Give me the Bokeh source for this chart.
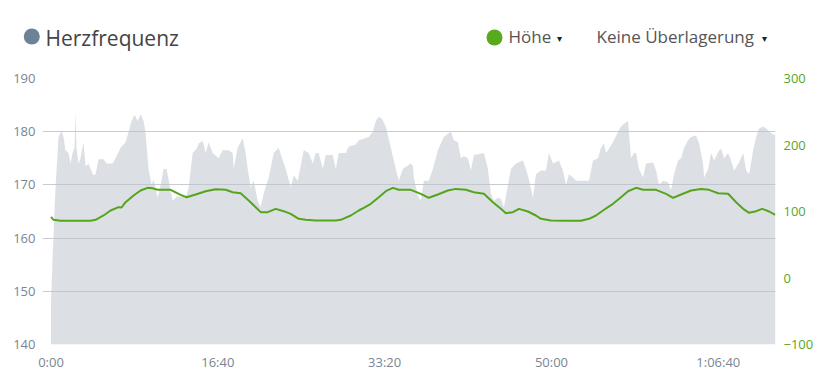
from bokeh.plotting import figure
from bokeh.models import Range1d, LinearAxis, FixedTicker
from bokeh.core.properties import value
from bokeh.embed import file_html
from bokeh.resources import INLINE

# Heart rate (seconds, bpm)
hr_time = [0, 9, 27, 45, 63, 75, 87, 105, 117, 129, 141, 147, 153, 165, 177, 195, 207, 225, 237, 255,
           267, 285, 315, 333, 369, 387, 417, 447, 465, 483, 501, 519, 537, 555, 567, 585, 603, 615, 639, 657,
           675, 693, 711, 729, 753, 789, 807, 825, 849, 873, 885, 909, 927, 945, 969, 1005, 1029, 1065, 1089, 1095,
           1119, 1149, 1167, 1179, 1197, 1215, 1239, 1257, 1275, 1305, 1335, 1365, 1389, 1407, 1437, 1455, 1479, 1515, 1545, 1569,
           1587, 1605, 1629, 1647, 1689, 1707, 1725, 1767, 1785, 1827, 1845, 1887, 1905, 1929, 1947, 1965, 1983, 2007, 2037, 2067,
           2085, 2109, 2157, 2169, 2175, 2199, 2217, 2235, 2265, 2289, 2319, 2337, 2355, 2379, 2397, 2415, 2439, 2457, 2475, 2499,
           2517, 2535, 2595, 2619, 2637, 2655, 2679, 2697, 2715, 2739, 2757, 2787, 2829, 2847, 2865, 2889, 2907, 2937, 2967, 2985,
           3009, 3045, 3069, 3087, 3105, 3129, 3147, 3225, 3249, 3279, 3297, 3315, 3327, 3345, 3375, 3399, 3417, 3435, 3459, 3465,
           3477, 3495, 3507, 3525, 3549, 3567, 3609, 3627, 3645, 3669, 3699, 3717, 3735, 3759, 3777, 3795, 3819, 3837, 3867, 3885,
           3909, 3915, 3939, 3957, 3975, 4005, 4017, 4035, 4059, 4077, 4095, 4125, 4149, 4167, 4185, 4209, 4227, 4245, 4269, 4287,
           4305, 4335, 4343]
hr_bpm = [148, 156, 169.5, 179, 180.2, 179, 176.5, 176, 174, 176, 177, 183.8, 177, 174, 175, 178, 173.5, 174, 173, 171.8,
          172, 174.8, 174.8, 174, 174, 175, 177, 178, 180, 182, 183.2, 182, 183.3, 182, 179.7, 173, 170, 171, 167.6, 170,
          173, 173, 170, 167, 167.8, 167.8, 167.6, 169.5, 176, 176.8, 177.8, 178.3, 176, 178, 176, 175, 176.5, 176.5, 176, 173,
          177, 178.7, 176, 173, 169.5, 170.8, 167, 165.8, 168.4, 171.4, 176, 177, 174.6, 173, 169.5, 171.8, 170.8, 176.5, 176, 174,
          176, 176, 173, 175.6, 175.6, 173, 176, 176, 177.2, 177.6, 178.4, 178.8, 179, 180, 182, 182.8, 182.5, 181, 177, 173,
          170.8, 173, 174, 173.6, 171.4, 168, 167, 170.8, 170.8, 173, 176.5, 177.8, 179, 179.6, 180, 178.4, 178, 175, 175.4, 175,
          172.7, 175.6, 176, 173, 168.4, 167, 167.6, 167.4, 165.8, 170, 173, 174, 174.6, 173, 171, 167.6, 172, 172.7, 172.7, 176,
          174, 174.6, 172.7, 170, 172, 171.4, 170.8, 170.8, 174.6, 175, 177, 177.8, 176, 176.8, 178.4, 180, 181, 181.5, 182, 179.6,
          175, 176, 176, 173, 171.4, 174, 174.2, 172.7, 170, 170.8, 170.5, 169, 172, 174.6, 175, 177, 178.4, 179, 179.3, 177.8,
          174, 171.4, 173, 176, 174.6, 176.5, 176.8, 175, 176, 174.6, 172.7, 174.2, 176, 172.7, 172, 176.5, 179, 180.6, 181, 180.6,
          180, 179.4, 179.5]

# Elevation (seconds, m)
elev_time = [0, 15, 57, 147, 237, 267, 315, 357, 405, 423, 447, 495, 537, 579, 609, 639, 717, 777, 813, 867,
             927, 987, 1047, 1089, 1137, 1185, 1227, 1257, 1299, 1347, 1395, 1437, 1485, 1527, 1587, 1707, 1737, 1797, 1845, 1875,
             1917, 1965, 2007, 2049, 2085, 2157, 2217, 2265, 2319, 2379, 2427, 2487, 2535, 2595, 2649, 2697, 2727, 2769, 2805, 2859,
             2907, 2937, 2997, 3087, 3177, 3225, 3267, 3309, 3339, 3369, 3417, 3459, 3507, 3549, 3627, 3687, 3729, 3777, 3837, 3897,
             3945, 3999, 4059, 4107, 4149, 4185, 4227, 4263, 4305, 4341]
elev_m = [92, 87.5, 86, 86, 86, 87.5, 94, 101.5, 106.5, 106, 114, 124, 131.6, 135.6, 135, 132.6, 132.6, 125, 121.5, 125.6,
          130.5, 133.5, 132.6, 129, 127.5, 116.5, 106.5, 99, 99, 104, 100.5, 96.5, 89, 87.5, 86.5, 86.5, 87.5, 94, 101.5, 105.5,
          111.5, 121.5, 130.5, 135.6, 132.6, 132.6, 126.6, 120.6, 125.6, 131.6, 134, 132.6, 129, 126.6, 114, 104, 97.5, 99, 104, 100,
          94, 89, 86.5, 86, 86, 89, 94, 101.5, 106.5, 111.5, 121.5, 130.5, 135.6, 132.6, 132.6, 126.6, 120.6, 125.6, 131.6, 134,
          132.6, 127.5, 126.6, 114, 104, 98, 100.5, 104, 100, 95]

x_ticks = [0, 1000, 2000, 3000, 4000]
x_tick_labels = ["0:00", "16:40", "33:20", "50:00", "1:06:40"]
hr_ticks = [140, 150, 160, 170, 180, 190]
elev_ticks = [-100, 0, 100, 200, 300]

title_text = "Herzfrequenz"
series_text = "Höhe"
overlay_text = "Keine Überlagerung"

FONT = "Open Sans"
W = 828
HH = 60                      # header strip height
H = 320                      # chart height
FL, FT, FR, FB = 42, 78, 775, 344   # chart frame box on the page

# ---------- header strip (pixel coordinates, y downwards) ----------
h = figure(width=W, height=HH, output_backend="svg", toolbar_location=None,
           x_range=Range1d(0, W), y_range=Range1d(HH, 0),
           x_axis_type=None, y_axis_type=None,
           min_border_left=0, min_border_right=0, min_border_top=0, min_border_bottom=0)
h.outline_line_color = None
h.grid.visible = False
h.background_fill_color = "white"
h.border_fill_color = "white"

h.scatter(x=[31.3], y=[36], size=16, marker="circle", fill_color="#6d8296", line_color=None)
h.text(x=[45], y=[37], text=[title_text], text_font=value(FONT), text_font_size="21px",
       text_color="#444444", text_baseline="alphabetic", text_align="left")
h.scatter(x=[494], y=[37], size=16, marker="circle", fill_color="#58aa1c", line_color=None)
h.text(x=[508, 596], y=[35.5, 35.5], text=[series_text, overlay_text], text_font=value(FONT),
       text_font_size="17px", text_color="#555555", text_baseline="alphabetic", text_align="left")
h.text(x=[559, 764], y=[38, 38], text=["▾", "▾"], text_font=value("DejaVu Sans"), text_font_size="10px",
       text_color="#222222", text_baseline="alphabetic", text_align="center")

# ---------- main chart ----------
p = figure(width=W, height=H, output_backend="svg", toolbar_location=None,
           x_range=Range1d(-51, 4343), y_range=Range1d(140, 190),
           min_border_left=FL, min_border_right=W - FR,
           min_border_top=FT - HH, min_border_bottom=H - (FB - HH))
p.outline_line_color = None
p.background_fill_color = "white"
p.border_fill_color = "white"

p.extra_y_ranges = {"elev": Range1d(-100, 300)}

p.varea(x=hr_time, y1=140, y2=hr_bpm, fill_color="#b9c2cb", fill_alpha=0.5)
p.line(elev_time, elev_m, y_range_name="elev", line_color="#55a51c", line_width=2)

for ax in (p.xaxis[0], p.yaxis[0]):
    ax.axis_line_color = None
    ax.major_tick_line_color = None
    ax.minor_tick_line_color = None
    ax.major_tick_out = 0
    ax.major_tick_in = 0
    ax.minor_tick_out = 0
    ax.major_label_text_font = FONT
    ax.major_label_text_font_size = "13px"
    ax.major_label_text_color = "#7a8592"

p.xaxis.ticker = FixedTicker(ticks=x_ticks)
p.xaxis.major_label_overrides = {t: l for t, l in zip(x_ticks, x_tick_labels)}
p.xaxis.major_label_standoff = 8
p.yaxis.ticker = FixedTicker(ticks=hr_ticks)
p.yaxis.major_label_standoff = 7

right = LinearAxis(y_range_name="elev", ticker=FixedTicker(ticks=elev_ticks))
right.axis_line_color = None
right.major_tick_line_color = None
right.minor_tick_line_color = None
right.major_tick_out = 0
right.major_tick_in = 0
right.minor_tick_out = 0
right.major_label_text_font = FONT
right.major_label_text_font_size = "13px"
right.major_label_text_color = "#5aa61e"
right.major_label_standoff = 8
p.add_layout(right, "right")

p.xgrid.visible = False
p.ygrid.grid_line_color = "#c8ccd1"
p.ygrid.grid_line_width = 1

# two independent roots so the header strip keeps its own full-width frame
open("out.html", "w").write(file_html([h, p], INLINE))
